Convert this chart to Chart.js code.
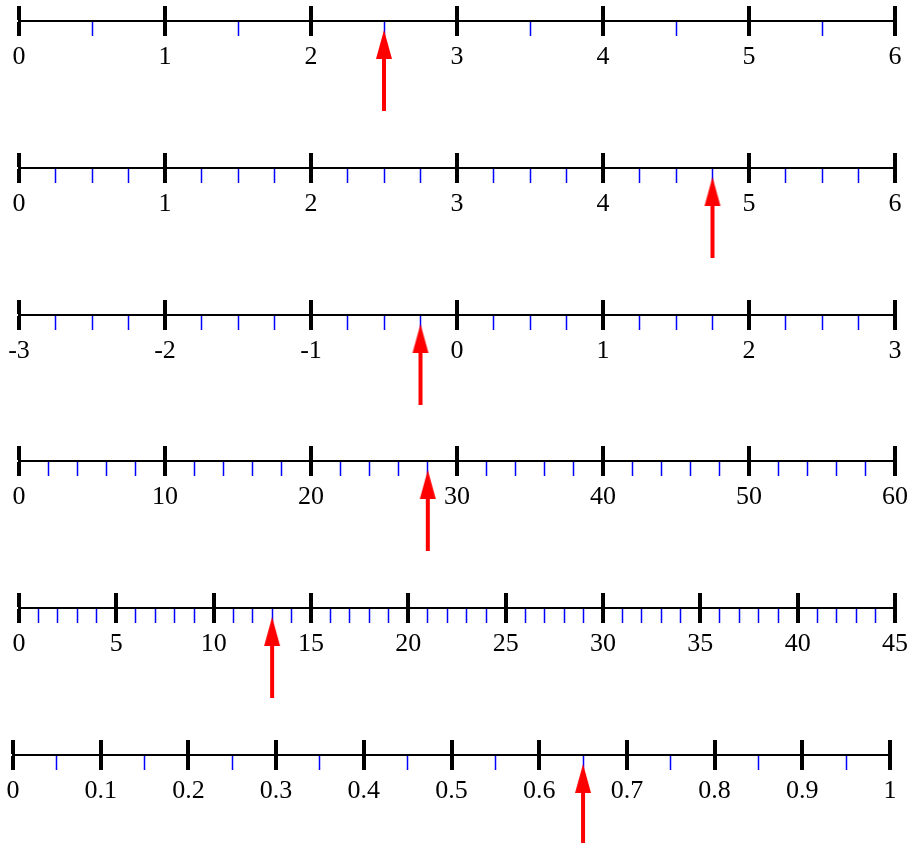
<!DOCTYPE html>
<html>
<head>
<meta charset="utf-8">
<title>Number lines</title>
<script src="https://cdn.jsdelivr.net/npm/chart.js@4.4.1/dist/chart.umd.min.js"></script>
<style>
  html, body { margin: 0; padding: 0; background: #fff; overflow: hidden; }
  body { width: 907px; height: 843px; position: relative; }
  canvas { position: absolute; left: 0; }
</style>
</head>
<body>
<script>
// one entry per number line, top to bottom
const rowMins = [0, 0, -3, 0, 0, 0];
const rowMaxs = [6, 6, 3, 60, 45, 1];
const majorSteps = [1, 1, 1, 10, 5, 0.1];
const minorSteps = [0.5, 0.25, 0.25, 2, 1, 0.05];
const arrowValues = [2.5, 4.75, -0.25, 28, 13, 0.65];

const rowWidth = 907;
const rowHeight = 147;
const rowPitch = 146.8;
const lineY = 21; // axis line inside each row canvas
const majorHalf = 15;
const sidePadding = [[19, 12], [19, 12], [19, 12], [19, 12], [19, 12], [13, 17]];

const isMajor = (value, step) => Math.abs(value / step - Math.round(value / step)) < 1e-6;
const formatLabel = (value) => String(Number(value.toFixed(2)));

const makeArrow = () => {
  // centre of the image sits on the axis line, arrow hangs below it
  const c = document.createElement('canvas');
  c.width = 20;
  c.height = 180;
  const ctx = c.getContext('2d');
  ctx.fillStyle = '#ff0000';
  ctx.beginPath();
  ctx.moveTo(10, 99);
  ctx.lineTo(18, 128);
  ctx.lineTo(2, 128);
  ctx.closePath();
  ctx.fill();
  ctx.fillRect(8, 127, 4, 53);
  return c;
};

const arrowImage = makeArrow();

rowMins.forEach((min, i) => {
  const max = rowMaxs[i];
  const major = majorSteps[i];

  const canvas = document.createElement('canvas');
  canvas.width = rowWidth;
  canvas.height = rowHeight;
  canvas.style.top = Math.round(i * rowPitch) + 'px';
  document.body.appendChild(canvas);

  new Chart(canvas, {
    type: 'scatter',
    data: {
      datasets: [{
        data: [{ x: arrowValues[i], y: 0 }],
        pointStyle: arrowImage,
        clip: false
      }]
    },
    options: {
      responsive: false,
      animation: false,
      events: [],
      devicePixelRatio: 1,
      layout: {
        padding: { left: sidePadding[i][0], right: sidePadding[i][1], top: lineY - majorHalf, bottom: 0 }
      },
      plugins: {
        legend: { display: false },
        tooltip: { enabled: false }
      },
      scales: {
        x: {
          type: 'linear',
          min: min,
          max: max,
          ticks: {
            stepSize: minorSteps[i],
            autoSkip: false,
            maxRotation: 0,
            minRotation: 0,
            padding: 6,
            color: '#000',
            font: { family: 'Liberation Serif', size: 26 },
            callback: (value) => (isMajor(value, major) ? formatLabel(value) : '')
          },
          grid: {
            drawOnChartArea: true,
            drawTicks: true,
            tickLength: majorHalf,
            color: (ctx) => (isMajor(ctx.tick.value, major) ? '#000' : 'rgba(0,0,0,0)'),
            lineWidth: (ctx) => (isMajor(ctx.tick.value, major) ? 4 : 1),
            tickColor: (ctx) => (isMajor(ctx.tick.value, major) ? '#000' : '#0000ff'),
            tickWidth: (ctx) => (isMajor(ctx.tick.value, major) ? 4 : 1.5)
          },
          border: { display: true, color: '#000', width: 2 },
          afterFit: (scale) => {
            scale.height = rowHeight - lineY;
            scale.paddingLeft = 0;
            scale.paddingRight = 0;
          }
        },
        y: { display: false, min: 0, max: 1 }
      }
    }
  });
});
</script>
</body>
</html>
